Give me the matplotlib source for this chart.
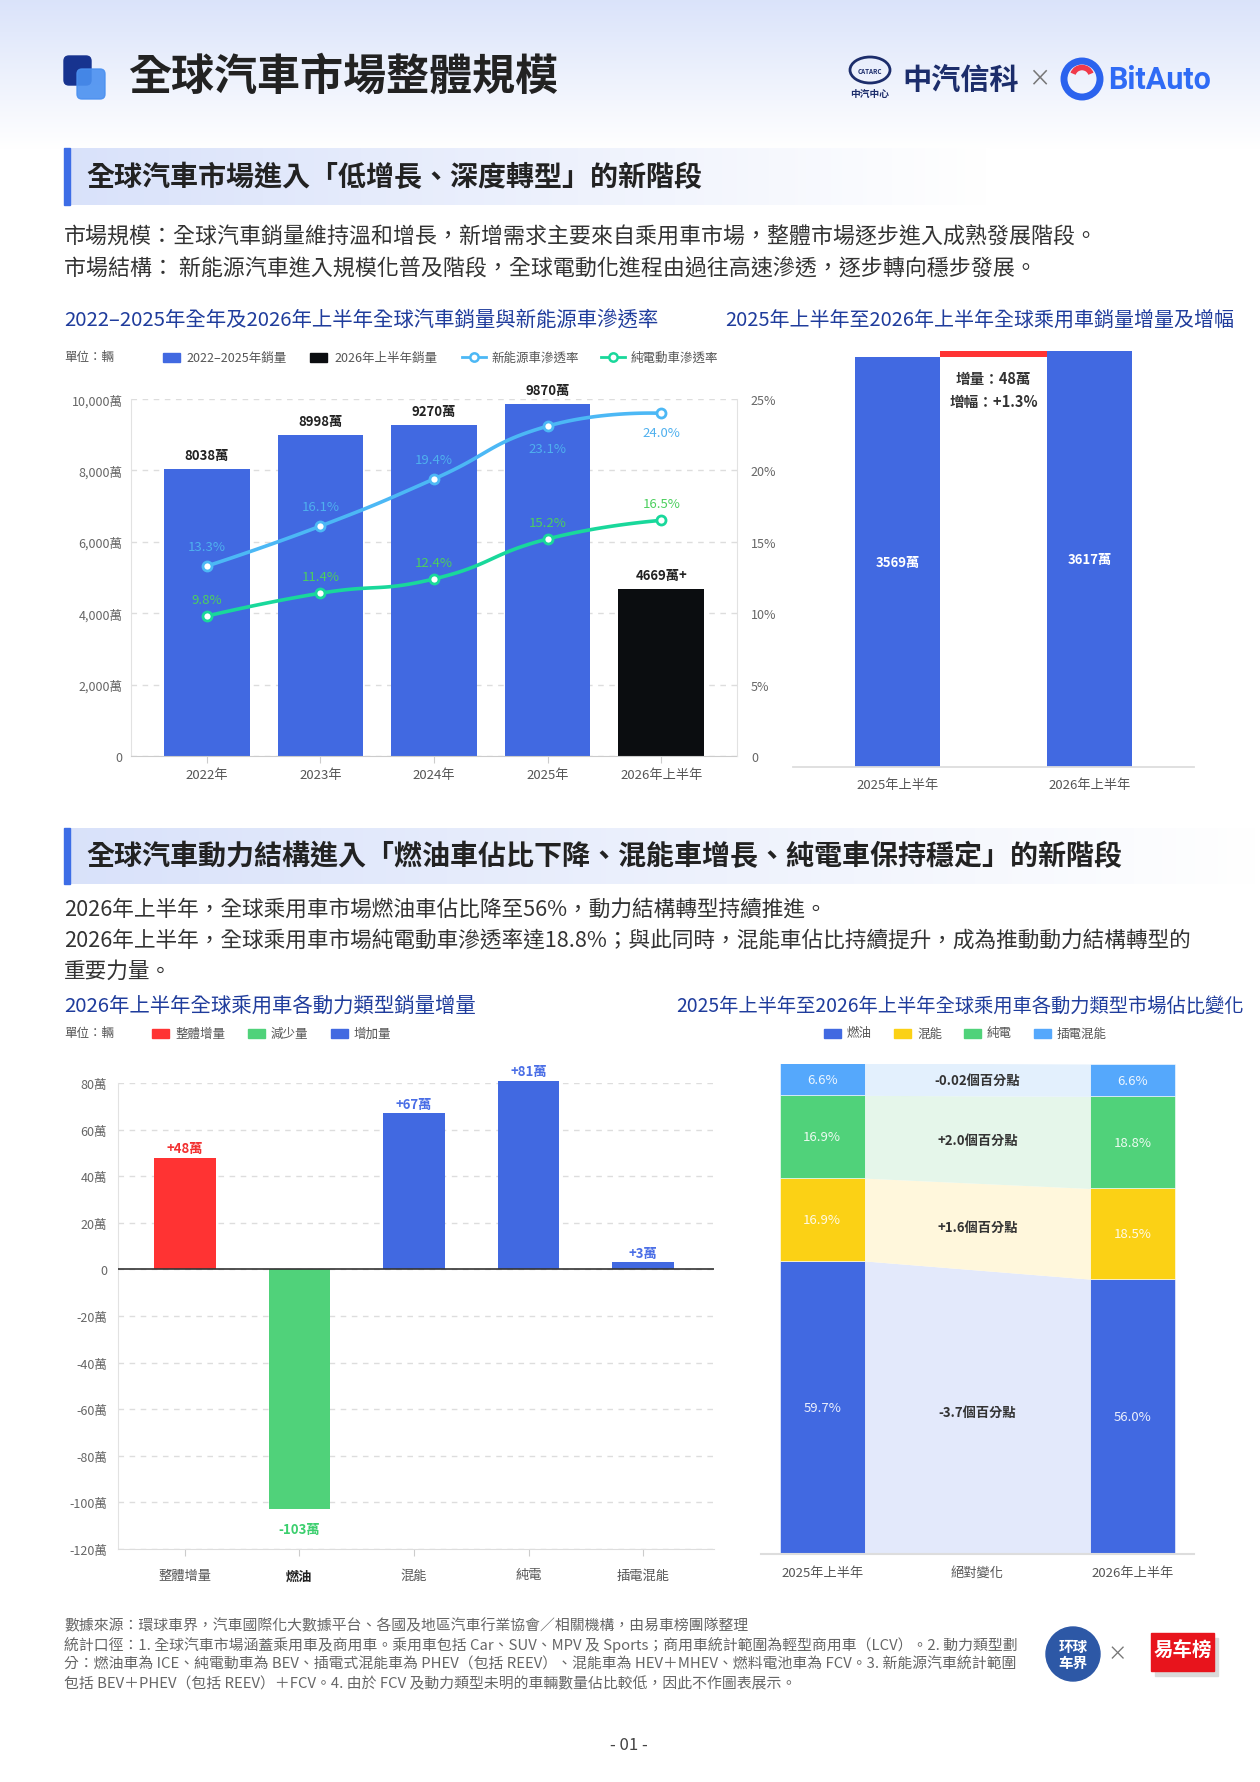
import numpy as np
import matplotlib.pyplot as plt
from matplotlib.patches import Rectangle, FancyBboxPatch, Circle, Ellipse, Arc

plt.rcParams['font.family'] = ['Noto Sans CJK TC', 'DejaVu Sans']

W, H = 1260, 1783

# 圖一：全年銷量與滲透率
years = ['2022年', '2023年', '2024年', '2025年', '2026年上半年']
sales = [8038, 8998, 9270, 9870, 4669]
sales_labels = ['8038萬', '8998萬', '9270萬', '9870萬', '4669萬+']
nev_rate = [13.3, 16.1, 19.4, 23.1, 24.0]
bev_rate = [9.8, 11.4, 12.4, 15.2, 16.5]

# 圖二：上半年乘用車銷量
half_years = ['2025年上半年', '2026年上半年']
half_sales = [3569, 3617]
increment = 48
growth = 1.3

# 圖三：各動力類型增量
power_types = ['整體增量', '燃油', '混能', '純電', '插電混能']
power_delta = [48, -103, 67, 81, 3]

# 圖四：市場佔比
share_types = ['燃油', '混能', '純電', '插電混能']
share_2025 = [59.7, 16.9, 16.9, 6.6]
share_2026 = [56.0, 18.5, 18.8, 6.6]
share_change = ['-3.7個百分點', '+1.6個百分點', '+2.0個百分點', '-0.02個百分點']
share_x = ['2025年上半年', '絕對變化', '2026年上半年']

BLUE = '#4169e1'
RED = '#ff3333'
GREEN = '#50d27a'
NAVY_T = '#1f3c9c'

fig = plt.figure(figsize=(W / 100, H / 100), dpi=100)
fig.patch.set_facecolor('white')


def box(x0, y0, x1, y1):
    return [x0 / W, 1 - y1 / H, (x1 - x0) / W, (y1 - y0) / H]


bg = fig.add_axes([0, 0, 1, 1], zorder=0)
bg.set_autoscale_on(False)
bg.set_xlim(0, W)
bg.set_ylim(H, 0)
bg.axis('off')


def t(x, y, s, size, color='#333', weight='normal', ha='left', va='center', **kw):
    bg.text(x, y, s, fontsize=size, color=color, fontweight=weight,
            ha=ha, va=va, **kw)


# 頁首漸層
g = np.linspace(0, 1, 200)[:, None, None]
c0 = np.array([0.855, 0.89, 0.98])
bg.imshow(c0 * (1 - g) + np.ones(3) * g, extent=(0, W, 150, 0), aspect='auto', zorder=0)

# 圖示
bg.add_patch(FancyBboxPatch((64, 57), 27, 29, boxstyle='round,pad=0,rounding_size=5',
                            color='#17338f', zorder=2))
bg.add_patch(FancyBboxPatch((77, 70), 28, 30, boxstyle='round,pad=0,rounding_size=5',
                            color='#4a90f0', alpha=0.9, zorder=3))
t(128, 77, '全球汽車市場整體規模', 31, '#222', 'bold')

# 右上標誌
bg.add_patch(Ellipse((870, 71), 40, 26, fill=False, ec='#1c2d6b', lw=2))
t(870, 71, 'CATARC', 4.5, '#1c2d6b', 'bold', ha='center')
t(870, 94, '中汽中心', 7, '#1c2d6b', 'bold', ha='center')
t(902, 80, '中汽信科', 21, '#1c2d6b', 'bold')
t(1039, 80, '×', 16, '#777', ha='center')
bg.add_patch(Circle((1082, 80), 18, fill=False, ec='#2b63ee', lw=5))
bg.add_patch(Arc((1082, 78), 19, 19, theta1=200, theta2=340, ec='#f03a4a', lw=4))
t(1108, 80, 'BitAuto', 22, '#2f6bf5', 'bold', family=['Roboto', 'DejaVu Sans'])


def section(y0, y1, x1, text):
    grad = np.linspace(0, 1, 256)[None, :, None]
    left = np.array([0.85, 0.885, 0.98])
    bg.imshow(left * (1 - grad) + np.ones(3) * grad, extent=(64, x1, y1, y0),
              aspect='auto', zorder=1)
    bg.add_patch(Rectangle((64, y0), 6, y1 - y0, color='#3d6de6', zorder=2))
    t(86, (y0 + y1) / 2, text, 20.2, '#222', 'bold', zorder=3)


section(149, 206, 990, '全球汽車市場進入「低增長、深度轉型」的新階段')
t(64, 238, '市場規模：全球汽車銷量維持溫和增長，新增需求主要來自乘用車市場，整體市場逐步進入成熟發展階段。', 15.8)
t(64, 270, '市場結構： 新能源汽車進入規模化普及階段，全球電動化進程由過往高速滲透，逐步轉向穩步發展。', 15.8)

t(64, 321, '2022–2025年全年及2026年上半年全球汽車銷量與新能源車滲透率', 14.7, NAVY_T)
t(725, 321, '2025年上半年至2026年上半年全球乘用車銷量增量及增幅', 14.4, NAVY_T)

# 圖一圖例
t(64, 358, '單位：輛', 9, '#555')
bg.add_patch(Rectangle((163, 354), 17, 9, color=BLUE))
t(186, 358, '2022–2025年銷量', 9, '#555')
bg.add_patch(Rectangle((310, 354), 17, 9, color='#0b0d10'))
t(334, 358, '2026年上半年銷量', 9, '#555')
bg.plot([462, 486], [358, 358], color='#4cb8f5', lw=2)
bg.plot([474], [358], 'o', ms=6, mfc='white', mec='#4cb8f5', mew=1.8)
t(491, 358, '新能源車滲透率', 9, '#555')
bg.plot([601, 625], [358, 358], color='#19d89b', lw=2)
bg.plot([613], [358], 'o', ms=6, mfc='white', mec='#19d89b', mew=1.8)
t(631, 358, '純電動車滲透率', 9, '#555')

# ---- 圖一 ----
ax1 = fig.add_axes(box(131, 400, 737, 757), zorder=2)
ax1.set_facecolor('none')
x = np.arange(len(years))
ax1.bar(x, sales, width=0.754, color=[BLUE] * 4 + ['#0b0d10'], zorder=2)
ax1.set_xlim(-0.667, 4.667)
ax1.set_ylim(0, 10000)
ax1.set_yticks(range(0, 10001, 2000))
ax1.set_yticklabels(['0'] + [f'{v:,}萬' for v in range(2000, 10001, 2000)])
ax1.set_xticks(x, years)
ax1.set_axisbelow(True)
ax1.yaxis.grid(True, ls=(0, (4, 4)), color='#dddddd', lw=1)
ax1.tick_params(axis='y', length=0, labelsize=9, labelcolor='#666', pad=6)
ax1.tick_params(axis='x', length=5, color='#cccccc', labelsize=9.5, labelcolor='#555', pad=4)
for s in ['top', 'right']:
    ax1.spines[s].set_visible(False)
ax1.spines['left'].set_color('#e2e2e2')
ax1.spines['bottom'].set_color('#cccccc')
for i, (v, lab) in enumerate(zip(sales, sales_labels)):
    ax1.annotate(lab, (i, v), xytext=(0, 10), textcoords='offset points',
                 ha='center', va='center', fontsize=9.5, fontweight='bold', color='#222')

ax1r = ax1.twinx()
ax1r.set_zorder(3)
ax1r.set_ylim(0, 25)
ax1r.set_yticks(range(0, 26, 5))
ax1r.set_yticklabels(['0'] + [f'{v}%' for v in range(5, 26, 5)])
ax1r.tick_params(axis='y', length=0, labelsize=9, labelcolor='#666', pad=10)
for s in ['top', 'left', 'bottom']:
    ax1r.spines[s].set_visible(False)
ax1r.spines['right'].set_color('#e2e2e2')


def ec_smooth(ax, xs, ys, smooth=0.5, steps=25):
    pts = ax.transData.transform(np.column_stack([xs, ys]).astype(float))
    n = len(pts)
    out = [pts[0]]
    cp0 = pts[0]
    for k in range(1, n):
        p, prev = pts[k], pts[k - 1]
        if k == n - 1:
            ncp0, cp1 = p, p
        else:
            nxt = pts[k + 1]
            v = nxt - prev
            l0 = np.hypot(*(p - prev))
            l1 = np.hypot(*(nxt - p))
            r = l1 / (l0 + l1)
            ncp0 = p - v * smooth * (1 - r)
            cp1 = p + v * smooth * r
        tt = np.linspace(0, 1, steps)[1:, None]
        seg = ((1 - tt) ** 3 * prev + 3 * (1 - tt) ** 2 * tt * cp0
               + 3 * (1 - tt) * tt ** 2 * ncp0 + tt ** 3 * p)
        out.extend(seg)
        cp0 = cp1
    return ax.transData.inverted().transform(np.array(out))


for rates, lc, tc, offs in [
        (nev_rate, '#4cb8f5', '#4fb0ee', [14, 14, 14, -16, -14]),
        (bev_rate, '#19d89b', '#4ccf5e', [12, 12, 12, 12, 12])]:
    curve = ec_smooth(ax1r, x, rates)
    ax1r.plot(curve[:, 0], curve[:, 1], color=lc, lw=2.6, solid_capstyle='round')
    ax1r.plot(x, rates, 'o', ms=6.5, mfc='white', mec=lc, mew=2)
    for i, (v, o) in enumerate(zip(rates, offs)):
        ax1r.annotate(f'{v:.1f}%', (i, v), xytext=(0, o), textcoords='offset points',
                      ha='center', va='center', fontsize=9.5, color=tc)

# ---- 圖二 ----
ax2 = fig.add_axes(box(793, 340, 1194, 768), zorder=2)
ax2.set_facecolor('none')
ax2.bar([0, 1], half_sales, width=0.447, color=BLUE)
ax2.bar([0.5], [increment], bottom=[half_sales[0]], width=0.556, color=RED)
ax2.set_xlim(-0.545, 1.545)
ax2.set_ylim(0, half_sales[1] * 1.03)
ax2.set_yticks([])
ax2.set_xticks([0, 1], half_years)
ax2.tick_params(axis='x', length=0, labelsize=9.5, labelcolor='#555', pad=8)
for s in ['top', 'right', 'left']:
    ax2.spines[s].set_visible(False)
ax2.spines['bottom'].set_color('#dddddd')
ax2.spines['bottom'].set_linewidth(1.3)
for i, v in enumerate(half_sales):
    ax2.text(i, v / 2, f'{v}萬', ha='center', va='center', fontsize=9.5,
             fontweight='bold', color='white')
ax2.annotate(f'增量：{increment}萬', (0.5, half_sales[0]), xytext=(0, -15),
             textcoords='offset points', ha='center', va='center', fontsize=10.5,
             fontweight='bold', color='#333')
ax2.annotate(f'增幅：+{growth}%', (0.5, half_sales[0]), xytext=(0, -32),
             textcoords='offset points', ha='center', va='center', fontsize=10.5,
             fontweight='bold', color='#333')

# ---- 第二部分 ----
section(829, 885, 1260, '全球汽車動力結構進入「燃油車佔比下降、混能車增長、純電車保持穩定」的新階段')
t(64, 910, '2026年上半年，全球乘用車市場燃油車佔比降至56%，動力結構轉型持續推進。', 15.6)
t(64, 942, '2026年上半年，全球乘用車市場純電動車滲透率達18.8%；與此同時，混能車佔比持續提升，成為推動動力結構轉型的', 15.6)
t(64, 972, '重要力量。', 15.6)

t(64, 1006, '2026年上半年全球乘用車各動力類型銷量增量', 14.7, NAVY_T)
t(676, 1006, '2025年上半年至2026年上半年全球乘用車各動力類型市場佔比變化', 13.9, NAVY_T)

t(64, 1034, '單位：輛', 9, '#555')
for x0, c, lab in [(152, RED, '整體增量'), (248, GREEN, '減少量'), (331, BLUE, '增加量')]:
    bg.add_patch(Rectangle((x0, 1030), 17, 9, color=c))
    t(x0 + 23, 1034, lab, 9, '#555')

seg_colors = [BLUE, '#fbd115', GREEN, '#55a8fc']
band_colors = ['#e3e9fb', '#fff7dc', '#e5f6ea', '#e3f0fd']
for x0, c, lab in zip([824, 894, 964, 1034], seg_colors, share_types):
    bg.add_patch(Rectangle((x0, 1030), 17, 9, color=c))
    t(x0 + 23, 1034, lab, 9, '#555')

# ---- 圖三 ----
ax3 = fig.add_axes(box(118, 1084, 714, 1550), zorder=2)
ax3.set_facecolor('none')
x3 = np.arange(len(power_types))
c3 = [RED if i == 0 else (GREEN if v < 0 else BLUE) for i, v in enumerate(power_delta)]
bars3 = ax3.bar(x3, power_delta, width=0.533, color=c3, zorder=2)
for b in bars3:
    b.set_clip_on(False)
ax3.set_xlim(-0.585, 4.62)
ax3.set_ylim(-120, 80)
yt = list(range(-120, 81, 20))
ax3.set_yticks(yt)
ax3.set_yticklabels([('0' if v == 0 else f'{v}萬') for v in yt])
ax3.set_axisbelow(True)
ax3.yaxis.grid(True, ls=(0, (4, 4)), color='#dddddd', lw=1)
ax3.axhline(0, color='#333333', lw=1.2, zorder=3)
ax3.set_xticks(x3, power_types)
ax3.tick_params(axis='y', length=0, labelsize=9, labelcolor='#666', pad=8)
ax3.tick_params(axis='x', length=5, color='#cccccc', labelsize=9.5, labelcolor='#555', pad=9)
for lab in ax3.get_xticklabels():
    if lab.get_text() == '燃油':
        lab.set_fontweight('bold')
        lab.set_color('#222')
for s in ['top', 'right']:
    ax3.spines[s].set_visible(False)
ax3.spines['left'].set_color('#e2e2e2')
ax3.spines['bottom'].set_color('#dddddd')
lab_cols = {RED: '#f23030', GREEN: '#3ccf6e', BLUE: '#4a6ee6'}
for i, v in enumerate(power_delta):
    txt = f'+{v}萬' if v > 0 else f'{v}萬'
    ax3.annotate(txt, (i, v), xytext=(0, 7 if v > 0 else -14), textcoords='offset points',
                 ha='center', va='center', fontsize=9.5, fontweight='bold',
                 color=lab_cols[c3[i]], annotation_clip=False)

# ---- 圖四 ----
ax4 = fig.add_axes(box(761, 1064.5, 1194, 1554.5), zorder=2)
ax4.set_facecolor('none')
bw = 0.548
b25 = np.concatenate([[0], np.cumsum(share_2025)])
b26 = np.concatenate([[0], np.cumsum(share_2026)])
for k in range(len(share_types)):
    ax4.bar(0, share_2025[k], bottom=b25[k], width=bw, color=seg_colors[k], ec='white', lw=0.4)
    ax4.bar(2, share_2026[k], bottom=b26[k], width=bw, color=seg_colors[k], ec='white', lw=0.4)
    xs = [bw / 2, 2 - bw / 2]
    ax4.fill_between(xs, [b25[k], b26[k]], [b25[k + 1], b26[k + 1]], color=band_colors[k], lw=0)
    ax4.text(0, b25[k] + share_2025[k] / 2, f'{share_2025[k]:.1f}%', ha='center', va='center',
             fontsize=9.5, color='white', alpha=0.9)
    ax4.text(2, b26[k] + share_2026[k] / 2, f'{share_2026[k]:.1f}%', ha='center', va='center',
             fontsize=9.5, color='white', alpha=0.9)
    mid = (b25[k] + share_2025[k] / 2 + b26[k] + share_2026[k] / 2) / 2
    ax4.text(1, mid, share_change[k], ha='center', va='center', fontsize=9.5,
             fontweight='bold', color='#333')
ax4.set_xlim(-0.395, 2.397)
ax4.set_ylim(0, 100)
ax4.set_yticks([])
ax4.set_xticks([0, 1, 2], share_x)
ax4.tick_params(axis='x', length=0, labelsize=9.5, labelcolor='#555', pad=9)
for s in ['top', 'right', 'left']:
    ax4.spines[s].set_visible(False)
ax4.spines['bottom'].set_color('#dddddd')
ax4.spines['bottom'].set_linewidth(1.5)

# ---- 頁尾 ----
foot = [
    '數據來源：環球車界，汽車國際化大數據平台、各國及地區汽車行業協會／相關機構，由易車榜團隊整理',
    '統計口徑：1. 全球汽車市場涵蓋乘用車及商用車。乘用車包括 Car、SUV、MPV 及 Sports；商用車統計範圍為輕型商用車（LCV）。2. 動力類型劃',
    '分：燃油車為 ICE、純電動車為 BEV、插電式混能車為 PHEV（包括 REEV）、混能車為 HEV＋MHEV、燃料電池車為 FCV。3. 新能源汽車統計範圍',
    '包括 BEV＋PHEV（包括 REEV）＋FCV。4. 由於 FCV 及動力類型未明的車輛數量佔比較低，因此不作圖表展示。',
]
for i, line in enumerate(foot):
    t(64, 1626 + i * 19.4, line, 10.7, '#666')

bg.add_patch(Circle((1073, 1655), 27, color='#2d58a6'))
t(1073, 1655, '环球\n车界', 10.5, 'white', 'bold', ha='center', linespacing=0.95)
t(1117, 1655, '×', 14, '#777', ha='center')
bg.add_patch(Rectangle((1155, 1639), 63, 38, color='#d9d9d9'))
bg.add_patch(Rectangle((1151, 1634), 63, 38, color='#e8141c'))
t(1182.5, 1651, '易车榜', 14, 'white', 'bold', ha='center')

t(629, 1746, '- 01 -', 12, '#444', ha='center')

fig.savefig('out.png', dpi=100)
